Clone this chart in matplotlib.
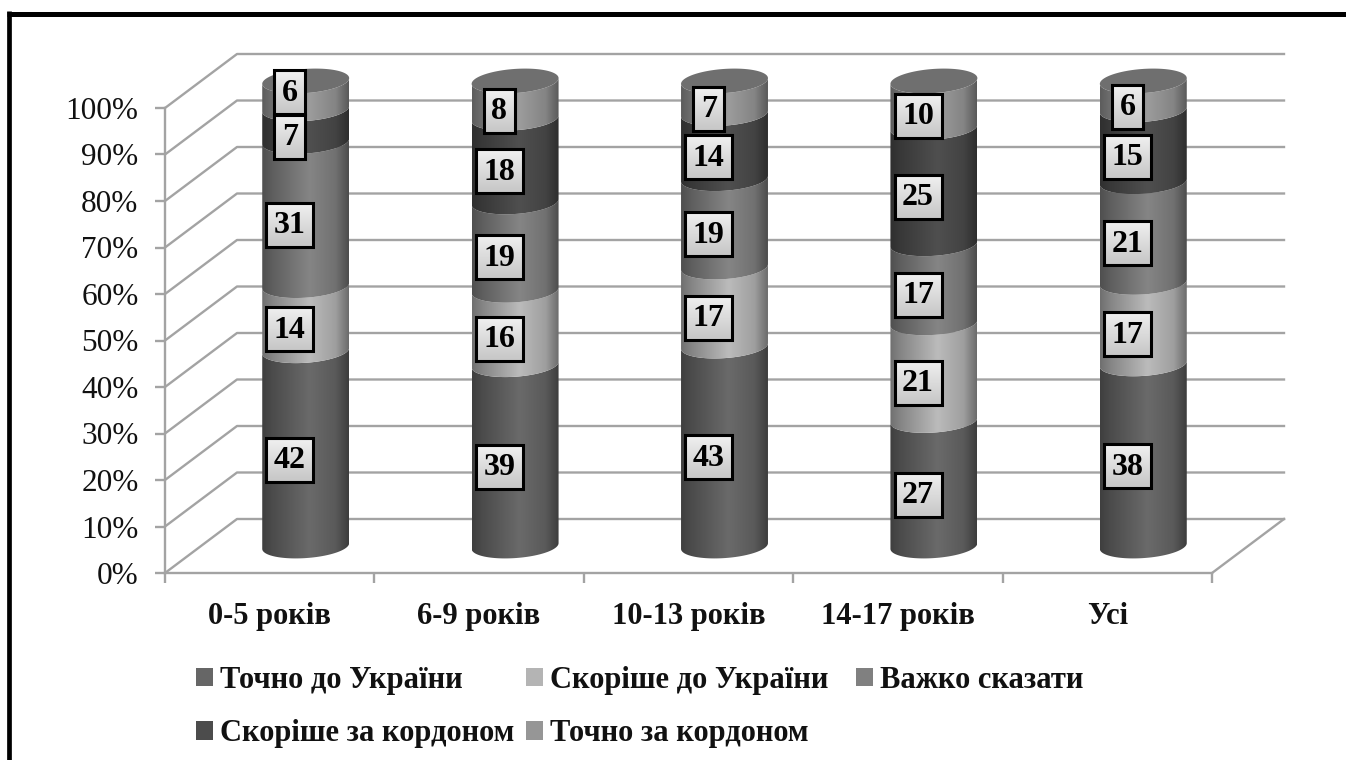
import matplotlib
matplotlib.use("Agg")
import matplotlib.pyplot as plt
import numpy as np
from matplotlib.colors import LinearSegmentedColormap
from matplotlib.patches import Patch, Polygon, Rectangle
from matplotlib.path import Path

categories = ["0-5 років", "6-9 років", "10-13 років", "14-17 років", "Усі"]
series_names = ["Точно до України", "Скоріше до України", "Важко сказати",
                "Скоріше за кордоном", "Точно за кордоном"]
tochno_ua = [42, 39, 43, 27, 38]
skorishe_ua = [14, 16, 17, 21, 17]
vazhko = [31, 19, 19, 17, 21]
skorishe_abroad = [7, 18, 14, 25, 15]
tochno_abroad = [6, 8, 7, 10, 6]
y_ticks = [0, 10, 20, 30, 40, 50, 60, 70, 80, 90, 100]

colors = ["#666666", "#b4b4b4", "#808080", "#4c4c4c", "#969696"]
grid_c = "#a3a3a3"

W, H = 1346, 760
# front plane of the fake 3d box, in pixels
LEFT, RIGHT, BOTTOM, TOP = 165, 1212, 573, 108
PX_X = 5 / (RIGHT - LEFT)
PX_Y = 100 / (BOTTOM - TOP)
DX = 72 * PX_X
DY = 54 * PX_Y

plt.rcParams["font.family"] = ["Liberation Serif", "DejaVu Serif"]
fig = plt.figure(figsize=(W / 100, H / 100), dpi=100)
ax = fig.add_axes([LEFT / W, 1 - BOTTOM / H, (RIGHT - LEFT) / W, (BOTTOM - TOP) / H])
ax.set_xlim(0, 5)
ax.set_ylim(0, 100)
for s in ["top", "right"]:
    ax.spines[s].set_visible(False)
for s in ["left", "bottom"]:
    ax.spines[s].set_color(grid_c)
    ax.spines[s].set_linewidth(1.7)
ax.set_xticks(range(6))
ax.set_xticklabels([])
ax.set_yticks(y_ticks)
ax.set_yticklabels([str(v) + "%" for v in y_ticks], fontsize=22.5, color="#111111")
ax.tick_params(axis="both", color=grid_c, width=1.7, length=7.5)
ax.tick_params(axis="y", pad=11.5)

for i, c in enumerate(categories):
    ax.text(i + 0.5, -9.4, c, ha="center", va="center", fontsize=22, fontweight="bold", color="#111111")

# walls
for v in y_ticks:
    ax.plot([0, DX, 5 + DX], [v, v + DY, v + DY], color=grid_c, lw=1.7, clip_on=False, zorder=1)
ax.plot([5, 5 + DX], [0, DY], color=grid_c, lw=1.7, clip_on=False, zorder=1)

# column circle: half width, depth radius and the sideways lean of the ellipse
COL_A = 42.3 * PX_X
COL_B = 0.23
COL_SKEW = 10 * PX_X
T0 = np.arctan2(COL_SKEW, COL_A)
HALF_W = np.hypot(COL_A, COL_SKEW)


def ring(cx, pct, t):
    # point on the column's circle at height pct, seen in the oblique view
    return (cx + 0.5 * DX + COL_A * np.cos(t) + COL_SKEW * np.sin(t),
            pct + (0.5 + COL_B * np.sin(t)) * DY)


def shade(base):
    r = np.array(matplotlib.colors.to_rgb(base))
    stops = [(0, r * 0.62), (0.12, r * 0.74), (0.55, r * 1.04), (0.85, r * 0.88), (1, r * 0.6)]
    return LinearSegmentedColormap.from_list("c", [(p, np.clip(q, 0, 1)) for p, q in stops])


front = np.linspace(T0, T0 - np.pi, 60)
grad = np.linspace(0, 1, 128).reshape(1, -1)
table = np.array([tochno_ua, skorishe_ua, vazhko, skorishe_abroad, tochno_abroad], dtype=float)
shares = table / table.sum(axis=0) * 100
cum = np.vstack([np.zeros(5), np.cumsum(shares, axis=0)])

for i in range(5):
    cx = i + 0.5
    mid = cx + 0.5 * DX
    for k in range(5):
        x1, y1 = ring(cx, cum[k, i], front)
        x2, y2 = ring(cx, cum[k + 1, i], front[::-1])
        verts = np.column_stack([np.r_[x1, x2], np.r_[y1, y2]])
        im = ax.imshow(grad, cmap=shade(colors[k]), vmin=0, vmax=1, aspect="auto", zorder=3,
                       extent=[mid - HALF_W, mid + HALF_W, cum[k, i], cum[k + 1, i] + 2 * DY])
        im.set_clip_box(fig.bbox)
        im.set_clip_path(Path(verts), ax.transData)
    # cap
    tt = np.linspace(0, 2 * np.pi, 120)
    xc, yc = ring(cx, 100, tt)
    ax.add_patch(Polygon(np.column_stack([xc, yc]), closed=True, fc="#6f6f6f", ec="none",
                         clip_on=False, zorder=4))

# data labels, the first column's top label was dragged up in the original
label_nudge = {(0, 4): 3.0}
box_h = 44 * PX_Y
label_grad = np.linspace(0, 1, 64).reshape(-1, 1)
label_cmap = LinearSegmentedColormap.from_list("lab", ["#c6c6c6", "#f0f0f0"])
for i in range(5):
    for k in range(5):
        lx = i + 0.5 + 0.28 * DX
        ly = (cum[k, i] + cum[k + 1, i]) / 2 + 0.29 * DY + label_nudge.get((i, k), 0)
        txt = str(int(table[k, i]))
        bw = (47 if len(txt) == 2 else 31) * PX_X
        ax.add_patch(Rectangle((lx - bw / 2 + 2 * PX_X, ly - box_h / 2 - 2 * PX_Y), bw, box_h, fc="black",
                               alpha=0.3, ec="none", clip_on=False, zorder=5 + k))
        lim = ax.imshow(label_grad, cmap=label_cmap, aspect="auto", origin="lower", zorder=5 + k,
                        extent=[lx - bw / 2, lx + bw / 2, ly - box_h / 2, ly + box_h / 2])
        lim.set_clip_on(False)
        ax.add_patch(Rectangle((lx - bw / 2, ly - box_h / 2), bw, box_h, fc="none", ec="black",
                               lw=2.2, clip_on=False, zorder=5 + k))
        ax.text(lx, ly - 0.2, txt, ha="center", va="center", fontsize=23, fontweight="bold",
                color="black", zorder=5 + k)
ax.set_xlim(0, 5)
ax.set_ylim(0, 100)


def add_legend(idx, ncol, x_px):
    handles = [Patch(fc=colors[k], ec="none", label=series_names[k]) for k in idx]
    fig.legend(handles=handles, ncol=ncol, loc="upper left", bbox_to_anchor=(x_px / W, 1 - 666 / H),
               frameon=False, prop={"weight": "bold", "size": 22}, handlelength=0.55, handleheight=0.55,
               handletextpad=0.23, columnspacing=0.39, labelspacing=0.8, borderpad=0, borderaxespad=0,
               labelcolor="#111111")


# legend filled column by column, the third column sits further out in the original
add_legend([0, 3, 1, 4], 2, 196)
add_legend([2], 1, 856)

# outer frame: only top and left edges show
fig.add_artist(plt.Line2D([9 / W, 9 / W], [0, 1 - 11 / H], color="black", lw=3.4, solid_capstyle="butt"))
fig.add_artist(plt.Line2D([7 / W, 1], [1 - 13.5 / H, 1 - 13.5 / H], color="black", lw=3.6, solid_capstyle="butt"))

fig.savefig("out.png", dpi=100, facecolor="white")
